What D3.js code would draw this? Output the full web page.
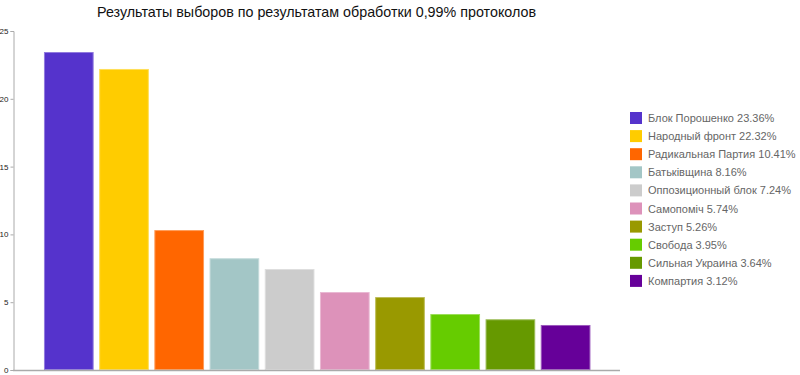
<!DOCTYPE html>
<html>
<head>
<meta charset="utf-8">
<script src="https://cdn.jsdelivr.net/npm/d3@7"></script>
<style>
  body { margin: 0; background: #fff; }
  text { font-family: "Liberation Sans", Arial, sans-serif; }
</style>
</head>
<body>
<svg id="chart" width="800" height="375"></svg>
<script>
// data
var parties = ['Блок Порошенко', 'Народный фронт', 'Радикальная Партия', 'Батьківщина',
    'Оппозиционный блок', 'Самопоміч', 'Заступ', 'Свобода', 'Сильная Украина', 'Компартия'];
var barValues = [23.45, 22.2, 10.32, 8.24, 7.45, 5.75, 5.38, 4.13, 3.74, 3.32];
var legendPct = ['23.36%', '22.32%', '10.41%', '8.16%', '7.24%', '5.74%', '5.26%', '3.95%', '3.64%', '3.12%'];
var colors = ['#5533cc', '#ffcc00', '#ff6600', '#a3c6c6', '#cccccc',
    '#dd92ba', '#999900', '#66cc00', '#669900', '#660099'];
var yTicks = [0, 5, 10, 15, 20, 25];
var title = 'Результаты выборов по результатам обработки 0,99% протоколов';

var svg = d3.select('#chart');

var plotLeft = 13, plotRight = 620, plotTop = 31, plotBottom = 370;

var x = d3.scaleBand()
    .domain(parties)
    .range([41.2, 593.2])
    .paddingInner(0.1)
    .paddingOuter(0.05);

var y = d3.scaleLinear()
    .domain([0, 25])
    .range([plotBottom, plotTop]);

var color = d3.scaleOrdinal().domain(parties).range(colors);

// title
svg.append('text')
    .attr('x', (plotLeft + plotRight) / 2)
    .attr('y', 17)
    .attr('text-anchor', 'middle')
    .style('font-size', '14.3px')
    .style('fill', '#111')
    .text(title);

// bars
svg.append('g').selectAll('rect')
    .data(barValues)
    .enter().append('rect')
    .attr('x', function (d, i) { return x(parties[i]) + 0.5; })
    .attr('y', function (d) { return y(d) + 0.5; })
    .attr('width', x.bandwidth() - 1)
    .attr('height', function (d) { return y(0) - y(d) - 1; })
    .attr('fill', function (d, i) { return colors[i]; })
    .attr('stroke', function (d, i) { return d3.interpolateRgb(colors[i], '#fff')(0.35); })
    .attr('stroke-width', 1);

// y axis
var yAxis = d3.axisLeft(y).tickValues(yTicks).tickSize(3).tickPadding(2);
var gy = svg.append('g')
    .attr('transform', 'translate(' + (plotLeft + 0.5) + ',0)')
    .call(yAxis);
gy.select('.domain').attr('stroke', '#aaa');
gy.selectAll('.tick line').attr('stroke', '#aaa');
gy.selectAll('.tick text')
    .style('font-size', '8px')
    .style('fill', '#222')
    .style('font-family', '"Liberation Sans", Arial, sans-serif');

// x axis line
svg.append('line')
    .attr('x1', plotLeft)
    .attr('x2', plotRight)
    .attr('y1', plotBottom + 0.5)
    .attr('y2', plotBottom + 0.5)
    .attr('stroke', '#aaa')
    .attr('stroke-width', 1.5);

// legend
var legend = svg.append('g')
    .attr('transform', 'translate(630,112)');

var item = legend.selectAll('g')
    .data(parties)
    .enter().append('g')
    .attr('transform', function (d, i) { return 'translate(0,' + (i * 18.1) + ')'; });

item.append('rect')
    .attr('width', 12)
    .attr('height', 12)
    .attr('fill', function (d) { return color(d); });

item.append('text')
    .attr('x', 18)
    .attr('y', 10)
    .style('font-size', '11px')
    .style('fill', '#666')
    .text(function (d, i) { return d + ' ' + legendPct[i]; });
</script>
</body>
</html>
